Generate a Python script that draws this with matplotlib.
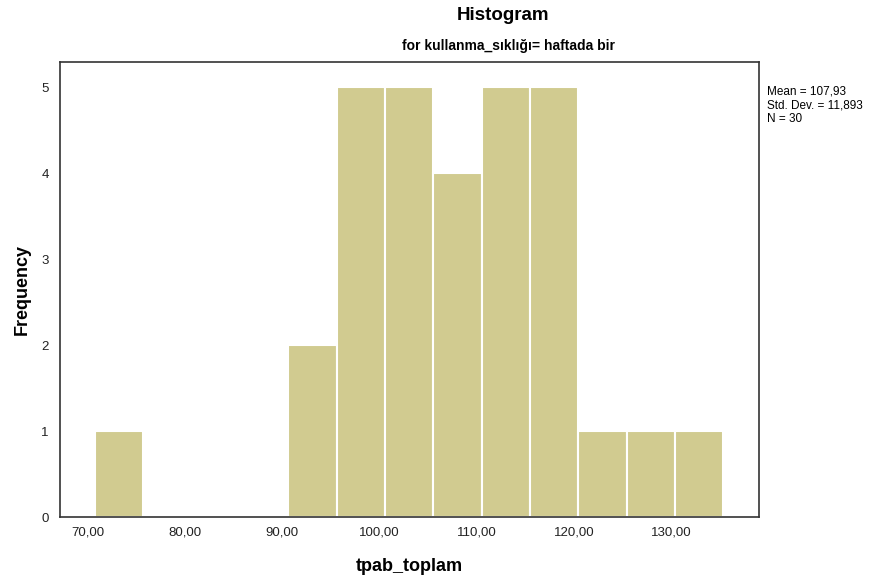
import numpy as np
import matplotlib
matplotlib.use("Agg")
import matplotlib.pyplot as plt

# tpab_toplam frequencies, bins of width ~5
bin_start = 70.7
bin_width = 4.975
counts = [1, 0, 0, 0, 2, 5, 5, 4, 5, 5, 1, 1, 1]
xticks = [70, 80, 90, 100, 110, 120, 130]
xtick_labels = ["70,00", "80,00", "90,00", "100,00", "110,00", "120,00", "130,00"]
yticks = [0, 1, 2, 3, 4, 5]
stats_text = "Mean = 107,93\nStd. Dev. = 11,893\nN = 30"

plt.rcParams['font.family'] = ['Liberation Sans', 'DejaVu Sans']

fig = plt.figure(figsize=(8.77, 5.8), dpi=100)
ax = fig.add_axes([0.0684, 0.1086, 0.7971, 0.7844])

edges = bin_start + bin_width * np.arange(len(counts))
ax.bar(edges, counts, width=bin_width, align='edge',
       color='#d1cb90', edgecolor='white', linewidth=1.5)

ax.set_xlim(67.12, 139.05)
ax.set_ylim(0, 5.29)
ax.set_xticks(xticks)
ax.set_xticklabels(xtick_labels)
ax.set_yticks(yticks)
ax.tick_params(axis='both', length=0, labelsize=9.5, colors='#222222')
ax.tick_params(axis='x', pad=7)
ax.tick_params(axis='y', pad=8)

for s in ax.spines.values():
    s.set_color('#333333')
    s.set_linewidth(1.2)

ax.set_xlabel('tpab_toplam', fontsize=13, fontweight='bold', labelpad=14)
ax.set_ylabel('Frequency', fontsize=13, fontweight='bold', labelpad=8)

fig.text(503 / 877, 1 - 15 / 580, 'Histogram', ha='center', va='center',
         fontsize=13.5, fontweight='bold')
fig.text(508 / 877, 1 - 46 / 580, 'for kullanma_sıklığı= haftada bir',
         ha='center', va='center', fontsize=10, fontweight='bold')
fig.text(767 / 877, 1 - 86 / 580, stats_text, ha='left', va='top',
         fontsize=8.5, linespacing=1.15)

fig.savefig('out.png', dpi=100)
